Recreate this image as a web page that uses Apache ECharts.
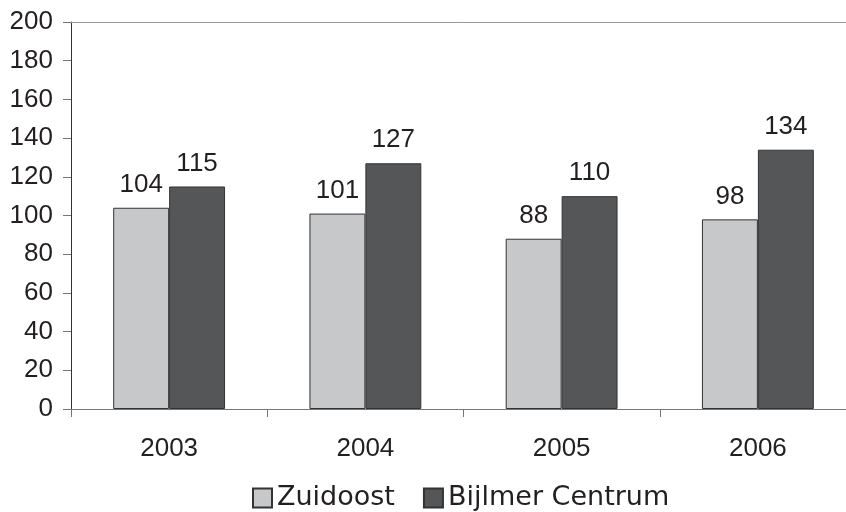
<!DOCTYPE html>
<html>
<head>
<meta charset="utf-8">
<script src="https://cdn.jsdelivr.net/npm/echarts@6/dist/echarts.min.js"></script>
<style>
  html, body { margin: 0; padding: 0; background: #fff; }
  #chart { width: 846px; height: 512px; }
</style>
</head>
<body>
<div id="chart"></div>
<script>
// Years on the category axis
const years = ['2003', '2004', '2005', '2006'];
// Series values per year
const zuidoost = [104, 101, 88, 98];
const bijlmerCentrum = [115, 127, 110, 134];
// Value axis range
const yMin = 0;
const yMax = 200;
const yStep = 20;

const FONT = 'Liberation Sans, Arial, sans-serif';
const LEGEND_FONT = 'DejaVu Sans, sans-serif';
const TEXT = '#231f20';

const chart = echarts.init(document.getElementById('chart'), null, { renderer: 'canvas' });

const barLabel = {
  show: true,
  position: 'top',
  distance: 10,
  fontFamily: FONT,
  fontSize: 26,
  color: TEXT
};

chart.setOption({
  animation: false,
  backgroundColor: '#ffffff',
  grid: {
    left: 71, top: 22, width: 785, height: 387,
    containLabel: false,
    outerBoundsMode: 'none'
  },
  legend: {
    top: 483,
    left: 252,
    padding: 0,
    itemWidth: 19,
    itemHeight: 19,
    itemGap: 28,
    icon: 'rect',
    textStyle: { fontFamily: LEGEND_FONT, fontSize: 27, color: TEXT, lineHeight: 30 },
    data: ['Zuidoost', 'Bijlmer Centrum']
  },
  xAxis: [
    {
      type: 'category',
      data: years,
      position: 'bottom',
      axisLine: { lineStyle: { color: '#777', width: 1 } },
      axisTick: { show: true, length: 8, lineStyle: { color: '#777' } },
      axisLabel: { fontFamily: FONT, fontSize: 26, color: TEXT, margin: 27 },
      splitLine: { show: false }
    },
    {
      // frame line along the top of the plot
      type: 'category',
      data: years,
      position: 'top',
      axisLine: { show: true, lineStyle: { color: '#999', width: 1 } },
      axisTick: { show: false },
      axisLabel: { show: false },
      splitLine: { show: false }
    }
  ],
  yAxis: {
    type: 'value',
    min: yMin,
    max: yMax,
    interval: yStep,
    axisLine: { show: true, lineStyle: { color: '#333', width: 1 } },
    axisTick: { show: true, length: 8, lineStyle: { color: '#777' } },
    axisLabel: { fontFamily: FONT, fontSize: 26, color: TEXT, margin: 18 },
    splitLine: { show: false }
  },
  series: [
    {
      name: 'Zuidoost',
      type: 'bar',
      data: zuidoost,
      barGap: '0%',
      barCategoryGap: '43%',
      itemStyle: { color: '#c7c8ca', borderColor: '#333', borderWidth: 1 },
      label: barLabel
    },
    {
      name: 'Bijlmer Centrum',
      type: 'bar',
      data: bijlmerCentrum,
      barGap: '0%',
      barCategoryGap: '43%',
      itemStyle: { color: '#555658', borderColor: '#333', borderWidth: 1 },
      label: barLabel
    }
  ]
});
</script>
</body>
</html>
